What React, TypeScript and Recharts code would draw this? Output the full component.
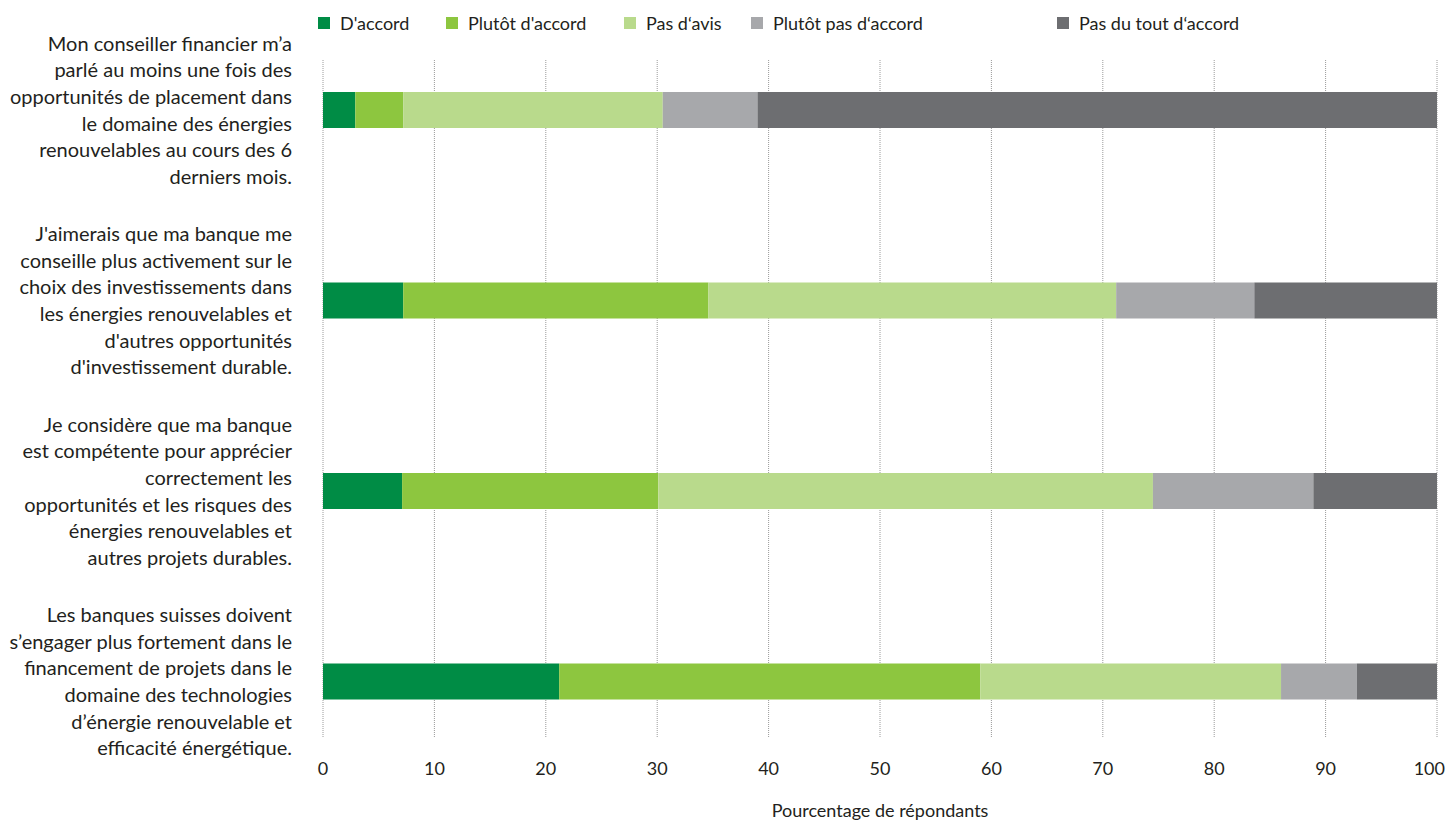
import { BarChart, Bar, XAxis, YAxis, CartesianGrid, Legend, Label } from "recharts"

// Survey statements, one entry per line of the wrapped label
const statements = [
  [
    "Mon conseiller financier m’a",
    "parlé au moins une fois des",
    "opportunités de placement dans",
    "le domaine des énergies",
    "renouvelables au cours des 6",
    "derniers mois.",
  ],
  [
    "J'aimerais que ma banque me",
    "conseille plus activement sur le",
    "choix des investissements dans",
    "les énergies renouvelables et",
    "d'autres opportunités",
    "d'investissement durable.",
  ],
  [
    "Je considère que ma banque",
    "est compétente pour apprécier",
    "correctement les",
    "opportunités et les risques des",
    "énergies renouvelables et",
    "autres projets durables.",
  ],
  [
    "Les banques suisses doivent",
    "s’engager plus fortement dans le",
    "financement de projets dans le",
    "domaine des technologies",
    "d’énergie renouvelable et",
    "efficacité énergétique.",
  ],
]

const dAccord = [2.9, 7.2, 7.1, 21.2]
const plutotDAccord = [4.3, 27.4, 23.0, 37.8]
const pasDAvis = [23.3, 36.6, 44.4, 27.0]
const plutotPasDAccord = [8.5, 12.4, 14.4, 6.8]
const pasDuToutDAccord = [61.0, 16.4, 11.1, 7.2]

const xTicks = [0, 10, 20, 30, 40, 50, 60, 70, 80, 90, 100]

const series = [
  { key: "dAccord", name: "D'accord", color: "#008c45", values: dAccord },
  { key: "plutotDAccord", name: "Plutôt d'accord", color: "#8dc63f", values: plutotDAccord },
  { key: "pasDAvis", name: "Pas d‘avis", color: "#b9da8c", values: pasDAvis },
  { key: "plutotPas", name: "Plutôt pas d‘accord", color: "#a7a8ab", values: plutotPasDAccord },
  { key: "pasDuTout", name: "Pas du tout d‘accord", color: "#6d6e71", values: pasDuToutDAccord },
]

// legend item widths (square + label + spacing)
const legendWidths = [128, 178, 127, 306, 240]

const data = statements.map((lines, i) => {
  const row: Record<string, string | number> = { statement: lines.join("\n") }
  series.forEach((s) => {
    row[s.key] = s.values[i]
  })
  return row
})

const FONT = "Lato, 'Open Sans', sans-serif"
const TEXT = "#231f20"
const LINE_HEIGHT = 26.6

// eslint-disable-next-line @typescript-eslint/no-explicit-any
function StatementTick({ x, y, payload }: any) {
  const lines = String(payload.value).split("\n")
  const startY = y - ((lines.length - 1) * LINE_HEIGHT) / 2
  return (
    <text x={x} y={startY} textAnchor="end" fontFamily={FONT} fontSize={20} fill={TEXT}>
      {lines.map((line, i) => (
        <tspan key={i} x={x} y={startY + i * LINE_HEIGHT} dy="0.35em">
          {line}
        </tspan>
      ))}
    </text>
  )
}

// last tick is pulled inward so it stays inside the chart edge
// eslint-disable-next-line @typescript-eslint/no-explicit-any
function PercentTick({ x, y, payload }: any) {
  const last = payload.value === 100
  return (
    <text
      x={last ? x + 8 : x}
      y={y}
      dy="0.71em"
      textAnchor={last ? "end" : "middle"}
      fontFamily={FONT}
      fontSize={18}
      fill={TEXT}
    >
      {payload.value}
    </text>
  )
}

function LegendContent() {
  return (
    <div style={{ display: "flex", alignItems: "center", height: 30, fontFamily: FONT, fontSize: 18, color: TEXT }}>
      {series.map((s, i) => (
        <div key={s.key} style={{ display: "flex", alignItems: "center", width: legendWidths[i], flex: "none" }}>
          <span style={{ width: 12, height: 12, background: s.color, marginRight: 10, display: "inline-block" }} />
          <span style={{ whiteSpace: "nowrap" }}>{s.name}</span>
        </div>
      ))}
    </div>
  )
}

export default function App() {
  return (
    <div style={{ position: "absolute", left: 0, top: 0, background: "#fff" }}>
      <BarChart
        width={1449}
        height={821}
        data={data}
        layout="vertical"
        margin={{ top: 8, right: 12, left: 23, bottom: 0 }}
      >
        <Legend
          verticalAlign="top"
          content={<LegendContent />}
          wrapperStyle={{ left: 318, height: 52 }}
        />
        <CartesianGrid horizontal={false} stroke="#9a9a9a" strokeDasharray="1 1" />
        <XAxis
          type="number"
          domain={[0, 100]}
          ticks={xTicks}
          axisLine={false}
          tickLine={false}
          tickMargin={18}
          height={83}
          tick={<PercentTick />}
        >
          <Label
            value="Pourcentage de répondants"
            position="insideBottom"
            offset={4}
            style={{ fontSize: 18, fontFamily: FONT, fill: TEXT }}
          />
        </XAxis>
        <YAxis
          type="category"
          dataKey="statement"
          width={300}
          axisLine={false}
          tickLine={false}
          tickMargin={25}
          padding={{ top: -45, bottom: -39 }}
          interval={0}
          tick={<StatementTick />}
        />
        {series.map((s) => (
          <Bar
            key={s.key}
            dataKey={s.key}
            name={s.name}
            stackId="a"
            fill={s.color}
            barSize={36}
            isAnimationActive={false}
          />
        ))}
      </BarChart>
    </div>
  )
}
